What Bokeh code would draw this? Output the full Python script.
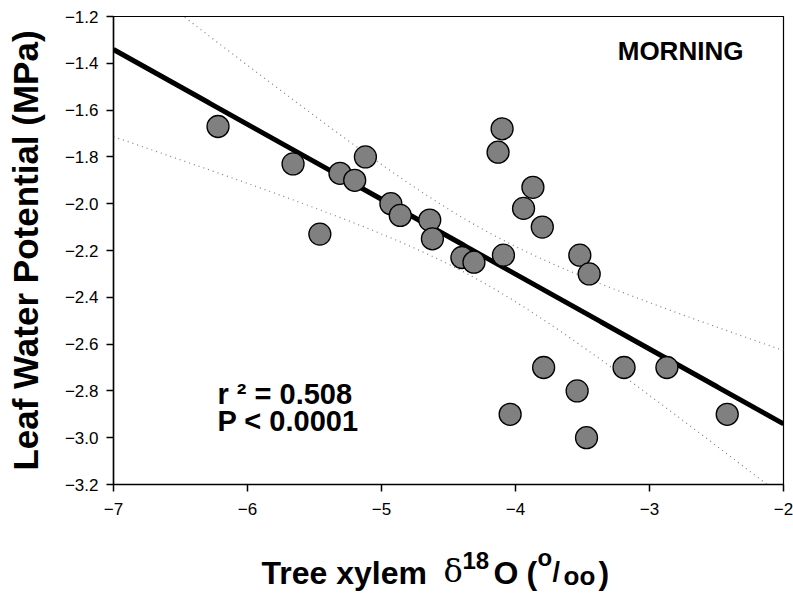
import numpy as np
from bokeh.plotting import figure
from bokeh.layouts import column
from bokeh.models import Label, FixedTicker, CustomJSTickFormatter, Range1d
from bokeh.core.properties import value
from bokeh.embed import file_html
from bokeh.resources import INLINE

# ---- data ----
x_vals = [-6.22, -5.66, -5.46, -5.31, -5.20, -5.12, -4.93, -4.86, -4.64, -4.62,
          -4.40, -4.31, -4.10, -4.13, -4.09, -3.87, -3.94, -3.80, -3.52, -3.45,
          -3.79, -3.54, -4.04, -3.47, -3.19, -2.87, -2.42]
y_vals = [-1.67, -1.83, -2.13, -1.87, -1.90, -1.80, -2.00, -2.05, -2.07, -2.15,
          -2.23, -2.25, -1.68, -1.78, -2.22, -1.93, -2.02, -2.10, -2.22, -2.30,
          -2.70, -2.80, -2.90, -3.00, -2.70, -2.70, -2.90]
x_ticks = [-7, -6, -5, -4, -3, -2]
y_ticks = [-3.2, -3.0, -2.8, -2.6, -2.4, -2.2, -2.0, -1.8, -1.6, -1.4, -1.2]
x_limits = [-7, -2]
y_limits = [-3.2, -1.2]
y_title = "Leaf Water Potential (MPa)"
x_title_parts = ["Tree xylem", "δ", "18", "O", "(", "o", "/", "oo", ")"]
panel_label = "MORNING"
r2_text = "r ² = 0.508"
p_text = "P < 0.0001"
t_crit = 2.06  # two-sided 95 %, n-2 = 25 d.f.

# ---- regression with 95 % confidence band ----
xa = np.array(x_vals)
ya = np.array(y_vals)
slope, intercept = np.polyfit(xa, ya, 1)
n = len(xa)
resid = ya - (intercept + slope * xa)
s = np.sqrt(np.sum(resid ** 2) / (n - 2))
xm = xa.mean()
sxx = np.sum((xa - xm) ** 2)
xs = np.linspace(x_limits[0], x_limits[1], 300)
fit = intercept + slope * xs
half = t_crit * s * np.sqrt(1.0 / n + (xs - xm) ** 2 / sxx)

FONT = "Liberation Sans"

p = figure(width=793, height=535, output_backend="svg", toolbar_location=None,
           x_range=Range1d(*x_limits), y_range=Range1d(*y_limits),
           min_border_left=113, min_border_right=10, min_border_top=16,
           min_border_bottom=51)
p.background_fill_color = "white"
p.border_fill_color = "white"
p.grid.visible = False
p.outline_line_color = "black"
p.outline_line_width = 1.2

for ax in (p.xaxis[0], p.yaxis[0]):
    ax.axis_line_color = "black"
    ax.axis_line_width = 1.5
    ax.major_tick_line_color = "black"
    ax.major_tick_line_width = 1.5
    ax.major_tick_out = 7
    ax.major_tick_in = 0
    ax.minor_tick_line_color = None
    ax.major_label_text_font = FONT
    ax.major_label_text_font_size = "17px"
    ax.major_label_text_color = "black"

p.xaxis.ticker = FixedTicker(ticks=x_ticks)
p.xaxis.formatter = CustomJSTickFormatter(
    code="return tick.toFixed(0).replace('-', '\u2212');")
p.xaxis.major_label_standoff = 11
p.yaxis.ticker = FixedTicker(ticks=y_ticks)
p.yaxis.formatter = CustomJSTickFormatter(
    code="return tick.toFixed(1).replace('-', '\u2212');")
p.yaxis.major_label_standoff = 8

p.yaxis.axis_label = y_title
p.yaxis.axis_label_text_font = FONT
p.yaxis.axis_label_text_font_size = "35px"
p.yaxis.axis_label_text_font_style = "bold"
p.yaxis.axis_label_text_color = "black"
p.yaxis.axis_label_standoff = 17

# confidence band (dotted) and regression line
p.line(xs, fit + half, line_color="#7f7f7f", line_width=1.2, line_dash="1 4")
p.line(xs, fit - half, line_color="#7f7f7f", line_width=1.2, line_dash="1 4")
p.line(xs, fit, line_color="black", line_width=5)

# points
p.scatter(x_vals, y_vals, size=22, fill_color="#808080", line_color="black",
          line_width=1.3)

# in-plot texts
p.add_layout(Label(x=-3.237, y=-1.347, text=panel_label, text_font=FONT,
                   text_font_size="26px", text_font_style="bold",
                   text_color="black", text_baseline="alphabetic"))
p.add_layout(Label(x=-6.224, y=-2.812, text=r2_text, text_font=FONT,
                   text_font_size="29px", text_font_style="bold",
                   text_color="black", text_baseline="alphabetic"))
p.add_layout(Label(x=-6.224, y=-2.929, text=p_text, text_font=FONT,
                   text_font_size="29px", text_font_style="bold",
                   text_color="black", text_baseline="alphabetic"))

# ---- x-axis title strip (super/subscripts), page-pixel coordinates ----
p2 = figure(width=793, height=58, output_backend="svg", toolbar_location=None,
            x_range=Range1d(113, 783), y_range=Range1d(593, 535),
            x_axis_location=None, y_axis_location=None,
            min_border_left=113, min_border_right=10,
            min_border_top=0, min_border_bottom=0)
p2.grid.visible = False
p2.outline_line_color = None
p2.background_fill_color = "white"
p2.border_fill_color = "white"

piece_x = [261, 443, 462, 493, 526, 537, 552, 563, 598]
piece_y = [572, 570, 560, 572, 572, 557, 571, 575, 572]
piece_size = ["32px", "32px", "24px", "32px", "32px", "24px", "27px", "26px", "32px"]
piece_font = [FONT, "DejaVu Serif", FONT, FONT, FONT, FONT, FONT, FONT, FONT]
piece_style = ["bold", "normal", "bold", "bold", "bold", "bold", "bold", "bold", "bold"]
for t, px, py, sz, fn, st in zip(x_title_parts, piece_x, piece_y, piece_size,
                                 piece_font, piece_style):
    p2.text(x=[px], y=[py], text=[t], text_font=value(fn), text_font_size=value(sz),
            text_font_style=st, text_color="black", text_baseline="alphabetic",
            text_align="left")

layout = column(p, p2, spacing=0)
open("out.html", "w").write(file_html(layout, INLINE))
